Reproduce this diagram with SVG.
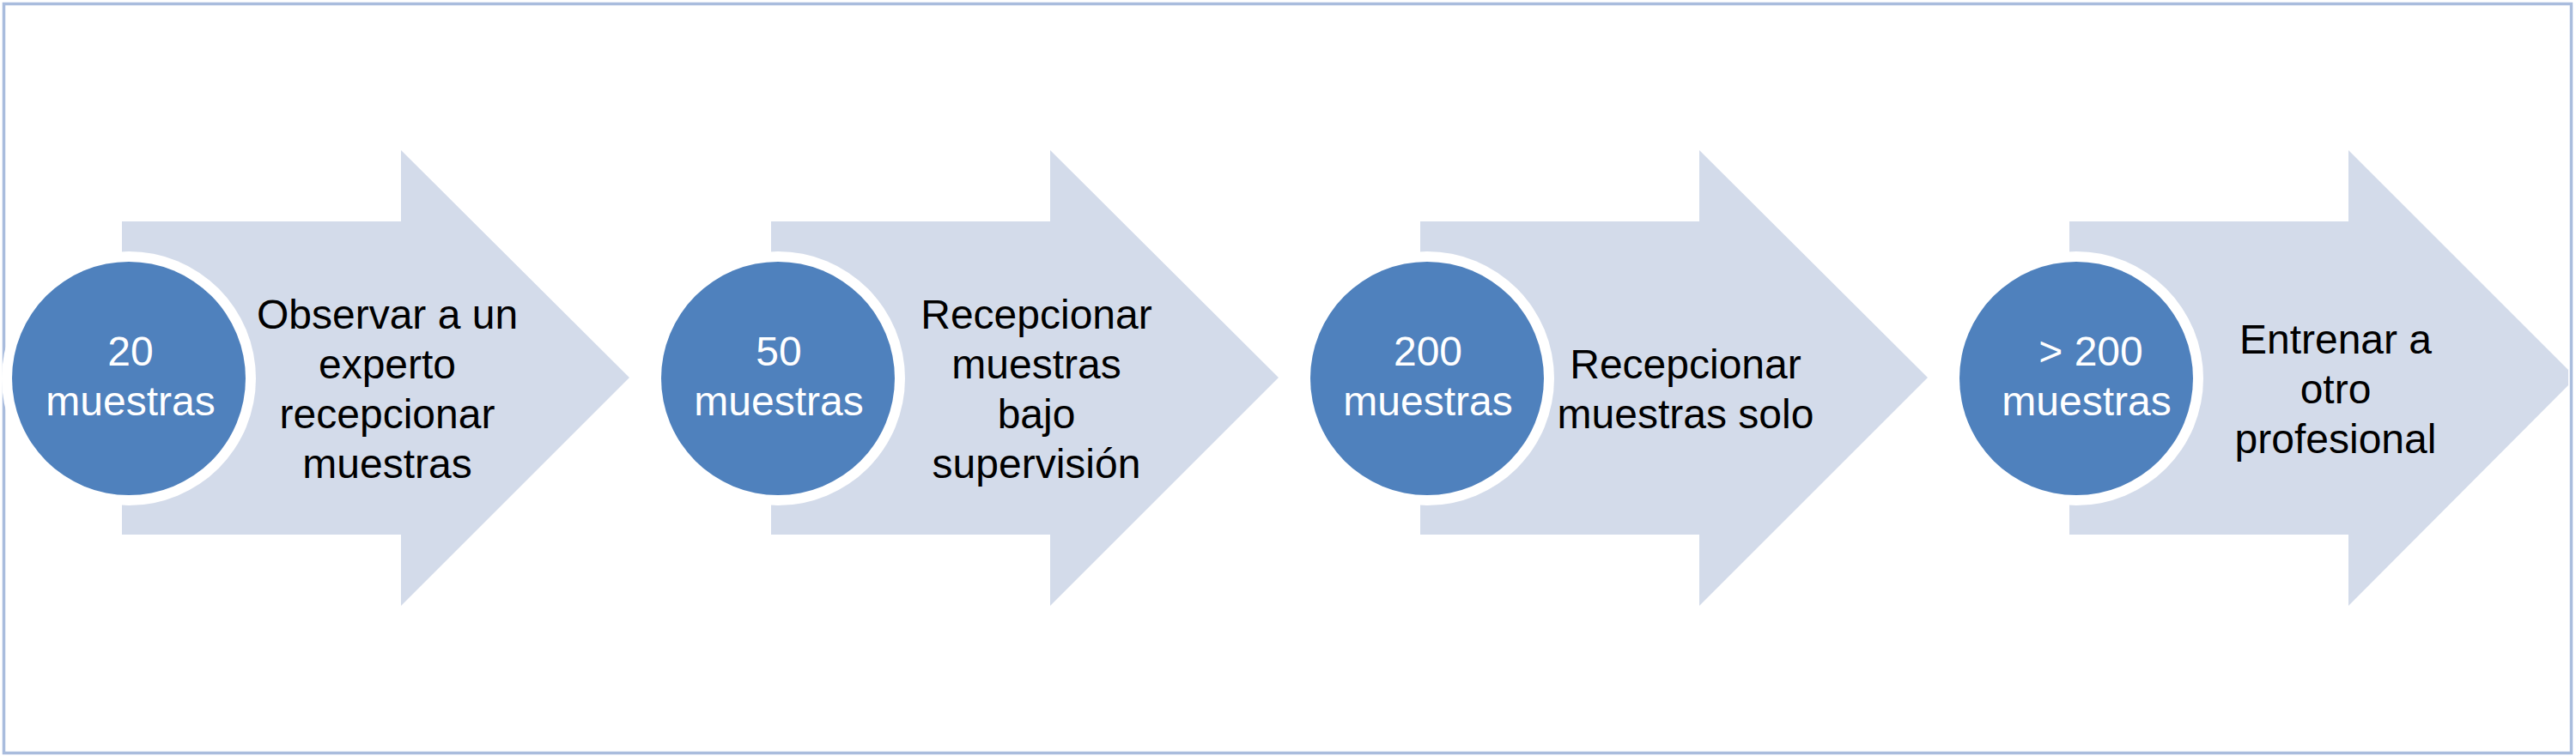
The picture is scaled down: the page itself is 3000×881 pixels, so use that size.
<svg xmlns="http://www.w3.org/2000/svg" width="3000" height="881" viewBox="0 0 3000 881">
<style>
.arrow{fill:#d3dbea;}
.ring{fill:#ffffff;}
.disc{fill:#4f81bd;}
.ct{font-family:"Liberation Sans",Arial,sans-serif;font-size:48px;fill:#ffffff;text-anchor:middle;}
.at{font-family:"Liberation Sans",Arial,sans-serif;font-size:48px;fill:#000000;text-anchor:middle;}
</style>
<rect x="0" y="0" width="3000" height="881" fill="#ffffff"/>
<rect x="4.5" y="4.5" width="2990" height="873" fill="none" stroke="#a9bcdd" stroke-width="3.5"/>
<g id="connectors"/>
<g id="step1">
<polygon class="arrow" points="142,258 467,258 467,175 733,440 467,706 467,623 142,623"/>
<circle class="ring" cx="150" cy="441" r="148"/>
<circle class="disc" cx="150" cy="441" r="136"/>
<text class="ct" x="152" y="426">20</text>
<text class="ct" x="152" y="484">muestras</text>
<text class="at" x="451" y="383">Observar a un</text>
<text class="at" x="451" y="441">experto</text>
<text class="at" x="451" y="499">recepcionar</text>
<text class="at" x="451" y="557">muestras</text>
</g>
<g id="step2">
<polygon class="arrow" points="898,258 1223,258 1223,175 1489,440 1223,706 1223,623 898,623"/>
<circle class="ring" cx="906" cy="441" r="148"/>
<circle class="disc" cx="906" cy="441" r="136"/>
<text class="ct" x="907" y="426">50</text>
<text class="ct" x="907" y="484">muestras</text>
<text class="at" x="1207" y="383">Recepcionar</text>
<text class="at" x="1207" y="441">muestras</text>
<text class="at" x="1207" y="499">bajo</text>
<text class="at" x="1207" y="557">supervisión</text>
</g>
<g id="step3">
<polygon class="arrow" points="1654,258 1979,258 1979,175 2245,440 1979,706 1979,623 1654,623"/>
<circle class="ring" cx="1662" cy="441" r="148"/>
<circle class="disc" cx="1662" cy="441" r="136"/>
<text class="ct" x="1663" y="426">200</text>
<text class="ct" x="1663" y="484">muestras</text>
<text class="at" x="1963" y="441">Recepcionar</text>
<text class="at" x="1963" y="499">muestras solo</text>
</g>
<g id="step4">
<polygon class="arrow" points="2410,258 2735,258 2735,175 2991,431 2991,449 2735,706 2735,623 2410,623"/>
<circle class="ring" cx="2418" cy="441" r="148"/>
<circle class="disc" cx="2418" cy="441" r="136"/>
<text class="ct" x="2435" y="426">&gt; 200</text>
<text class="ct" x="2430" y="484">muestras</text>
<text class="at" x="2720" y="412">Entrenar a</text>
<text class="at" x="2720" y="470">otro</text>
<text class="at" x="2720" y="528">profesional</text>
</g>
</svg>
